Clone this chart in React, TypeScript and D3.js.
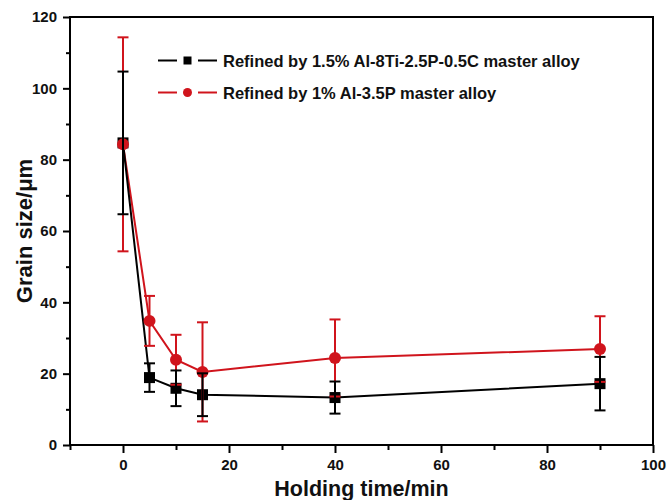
import React, { useEffect, useRef } from "react";
import * as d3 from "d3";

const times = [0, 5, 10, 15, 40, 90];
const blackVals = [84.7, 18.9, 15.9, 14.1, 13.3, 17.2];
const blackErr = [20, 4, 5, 6, 4.5, 7.5];
const redVals = [84.3, 34.8, 23.9, 20.5, 24.4, 26.9];
const redErr = [30, 7, 7, 13.9, 10.8, 9.2];
const xTicks = [0, 20, 40, 60, 80, 100];
const yTicks = [0, 20, 40, 60, 80, 100, 120];
const legendLabels = [
  "Refined by 1.5% Al-8Ti-2.5P-0.5C master alloy",
  "Refined by 1% Al-3.5P master alloy",
];

const FONT = "'Liberation Sans', Arial, sans-serif";

const App = () => {
  const svgRef = useRef<SVGSVGElement>(null);

  useEffect(() => {
    const width = 667;
    const height = 500;
    const margin = { top: 17, right: 14, bottom: 55, left: 70 };

    const svg = d3.select(svgRef.current);
    svg.selectAll("*").remove();
    svg.attr("width", width).attr("height", height);

    const x = d3.scaleLinear().domain([-10, 100]).range([margin.left, width - margin.right]);
    const y = d3.scaleLinear().domain([0, 120]).range([height - margin.bottom, margin.top]);

    svg.append("rect").attr("width", width).attr("height", height).attr("fill", "#fff");

    // frame
    svg.append("rect")
      .attr("x", margin.left)
      .attr("y", margin.top)
      .attr("width", width - margin.left - margin.right)
      .attr("height", height - margin.top - margin.bottom)
      .attr("fill", "none")
      .attr("stroke", "#000")
      .attr("stroke-width", 2);

    // axes
    const xAxis = svg.append("g")
      .attr("transform", `translate(0,${height - margin.bottom})`)
      .call(d3.axisBottom(x).tickValues(xTicks).tickSize(8).tickPadding(6).tickFormat(d3.format("d")));
    xAxis.append("g").call(
      d3.axisBottom(x).tickValues(d3.range(-10, 100, 20)).tickSize(5).tickFormat(() => "")
    );

    const yAxis = svg.append("g")
      .attr("transform", `translate(${margin.left},0)`)
      .call(d3.axisLeft(y).tickValues(yTicks).tickSize(7).tickPadding(6).tickFormat(d3.format("d")));
    yAxis.append("g").call(
      d3.axisLeft(y).tickValues(d3.range(10, 120, 20)).tickSize(4).tickFormat(() => "")
    );

    [xAxis, yAxis].forEach((a) => {
      a.selectAll(".domain").remove();
      a.selectAll("line").attr("stroke", "#000").attr("stroke-width", 2);
      a.selectAll("text")
        .attr("fill", "#111")
        .style("font-family", FONT)
        .style("font-weight", "bold")
        .style("font-size", "15px");
    });

    // axis titles
    svg.append("text")
      .attr("x", (margin.left + width - margin.right) / 2)
      .attr("y", 496)
      .attr("text-anchor", "middle")
      .style("font-family", FONT)
      .style("font-weight", "bold")
      .style("font-size", "21.5px")
      .attr("fill", "#111")
      .text("Holding time/min");

    svg.append("text")
      .attr("transform", `translate(24,${(margin.top + height - margin.bottom) / 2}) rotate(-90)`)
      .attr("text-anchor", "middle")
      .attr("dominant-baseline", "central")
      .style("font-family", FONT)
      .style("font-weight", "bold")
      .style("font-size", "22px")
      .attr("fill", "#111")
      .text("Grain size/μm");

    const series = [
      { vals: redVals, err: redErr, color: "#d0141c", shape: "circle" },
      { vals: blackVals, err: blackErr, color: "#000", shape: "square" },
    ];

    const line = d3.line<number>()
      .x((_, i) => x(times[i]))
      .y((d) => y(d));

    series.forEach((s) => {
      svg.append("path")
        .datum(s.vals)
        .attr("fill", "none")
        .attr("stroke", s.color)
        .attr("stroke-width", 2)
        .attr("d", line);
    });

    const drawMarkers = (s: typeof series[0]) => {
      const g = svg.append("g");
      s.vals.forEach((v, i) => {
        if (s.shape === "circle") {
          g.append("circle")
            .attr("cx", x(times[i]))
            .attr("cy", y(v))
            .attr("r", 6)
            .attr("fill", s.color);
        } else {
          g.append("rect")
            .attr("x", x(times[i]) - 5.5)
            .attr("y", y(v) - 5.5)
            .attr("width", 11)
            .attr("height", 11)
            .attr("fill", s.color);
        }
      });
    };

    const drawErr = (s: typeof series[0]) => {
      const g = svg.append("g").attr("stroke", s.color).attr("stroke-width", 2);
      s.vals.forEach((v, i) => {
        const cx = x(times[i]);
        const lo = y(v - s.err[i]);
        const hi = y(v + s.err[i]);
        g.append("line").attr("x1", cx).attr("x2", cx).attr("y1", lo).attr("y2", hi);
        g.append("line").attr("x1", cx - 5.5).attr("x2", cx + 5.5).attr("y1", lo).attr("y2", lo);
        g.append("line").attr("x1", cx - 5.5).attr("x2", cx + 5.5).attr("y1", hi).attr("y2", hi);
      });
    };

    drawMarkers(series[1]);
    drawMarkers(series[0]);
    drawErr(series[0]);
    drawErr(series[1]);

    // legend
    const legendItems = [
      { label: legendLabels[0], color: "#000", shape: "square", yv: 60.5 },
      { label: legendLabels[1], color: "#d0141c", shape: "circle", yv: 92.5 },
    ];
    legendItems.forEach((item) => {
      const g = svg.append("g").attr("transform", `translate(0,${item.yv})`);
      g.append("line").attr("x1", 158).attr("x2", 177).attr("y1", 0).attr("y2", 0)
        .attr("stroke", item.color).attr("stroke-width", 2);
      g.append("line").attr("x1", 198).attr("x2", 217).attr("y1", 0).attr("y2", 0)
        .attr("stroke", item.color).attr("stroke-width", 2);
      if (item.shape === "square") {
        g.append("rect").attr("x", 183.5).attr("y", -4).attr("width", 8).attr("height", 8).attr("fill", item.color);
      } else {
        g.append("circle").attr("cx", 187.5).attr("cy", 0).attr("r", 4.5).attr("fill", item.color);
      }
      g.append("text")
        .attr("x", 223)
        .attr("y", 0)
        .attr("dominant-baseline", "central")
        .style("font-family", FONT)
        .style("font-weight", "bold")
        .style("font-size", "16.5px")
        .attr("fill", "#111")
        .text(item.label);
    });
  }, []);

  return (
    <svg
      ref={svgRef}
      style={{ position: "absolute", left: 0, top: 0, display: "block" }}
    />
  );
};

export default App;
